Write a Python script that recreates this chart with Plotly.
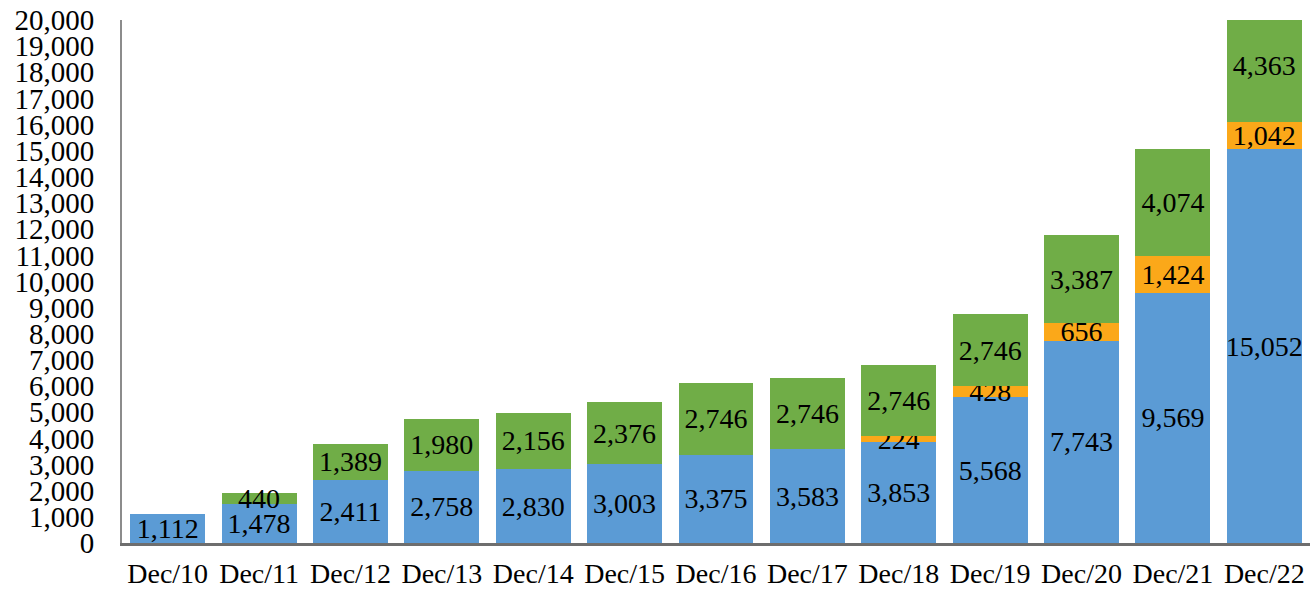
import plotly.graph_objects as go

categories = ["Dec/10", "Dec/11", "Dec/12", "Dec/13", "Dec/14", "Dec/15", "Dec/16",
              "Dec/17", "Dec/18", "Dec/19", "Dec/20", "Dec/21", "Dec/22"]
blue_values = [1112, 1478, 2411, 2758, 2830, 3003, 3375, 3583, 3853, 5568, 7743, 9569, 15052]
orange_values = [None, None, None, None, None, None, None, None, 224, 428, 656, 1424, 1042]
green_values = [None, 440, 1389, 1980, 2156, 2376, 2746, 2746, 2746, 2746, 3387, 4074, 4363]

y_ticks = list(range(0, 20001, 1000))
y_tick_text = [f"{v:,}" for v in y_ticks]

FONT = "Liberation Serif, Times New Roman, serif"
series = [
    (blue_values, "#5B9BD5"),
    (orange_values, "#FBA819"),
    (green_values, "#70AD47"),
]

fig = go.Figure()
for values, color in series:
    fig.add_trace(go.Bar(
        x=categories,
        y=values,
        marker=dict(color=color, line=dict(width=0)),
        text=[f"{v:,}" if v else "" for v in values],
        texttemplate="%{text}",
        textposition="inside",
        insidetextanchor="middle",
        textangle=0,
        constraintext="none",
        textfont=dict(family=FONT, size=28, color="black"),
        cliponaxis=True,
        showlegend=False,
    ))

fig.update_layout(
    barmode="stack",
    bargap=0.18,
    width=1312,
    height=589,
    margin=dict(l=122, r=2, t=20, b=46),
    plot_bgcolor="white",
    paper_bgcolor="white",
    font=dict(family=FONT, size=28, color="black"),
)

fig.update_xaxes(
    automargin=False,
    showline=True,
    linecolor="#6e6e6e",
    linewidth=2.5,
    showgrid=False,
    ticks="",
    ticklabelstandoff=4,
    tickfont=dict(family=FONT, size=28, color="black"),
)
fig.update_yaxes(
    automargin=False,
    range=[0, 20000],
    tickvals=y_ticks,
    ticktext=y_tick_text,
    showline=True,
    linecolor="#8c8c8c",
    linewidth=2,
    showgrid=False,
    zeroline=False,
    ticks="",
    ticklabelstandoff=20,
    tickfont=dict(family=FONT, size=29, color="black"),
)

fig.write_html("out.html")
